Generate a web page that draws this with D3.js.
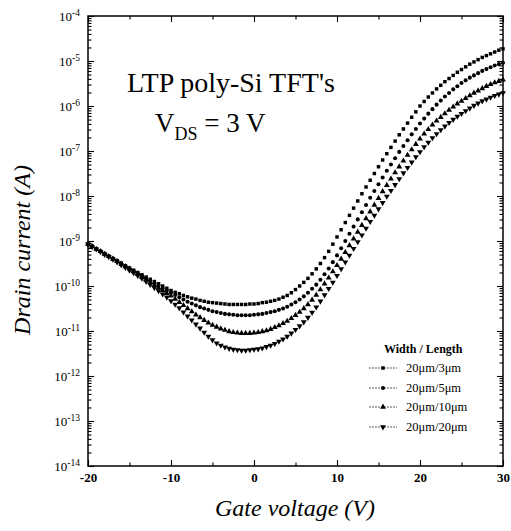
<!DOCTYPE html>
<html>
<head>
<meta charset="utf-8">
<script src="https://cdn.jsdelivr.net/npm/d3@7/dist/d3.min.js"></script>
<style>
body { margin: 0; background: #fff; }
svg { display: block; font-family: "Liberation Serif", "Times New Roman", serif; }
svg text { font-family: "Liberation Serif", "Times New Roman", serif; }
</style>
</head>
<body>
<script>
// gate voltage sweep (V)
var gateV = [
	-20, -19.5, -19, -18.5, -18, -17.5, -17, -16.5, -16, -15.5,
	-15, -14.5, -14, -13.5, -13, -12.5, -12, -11.5, -11, -10.5,
	-10, -9.5, -9, -8.5, -8, -7.5, -7, -6.5, -6, -5.5,
	-5, -4.5, -4, -3.5, -3, -2.5, -2, -1.5, -1, -0.5,
	0, 0.5, 1, 1.5, 2, 2.5, 3, 3.5, 4, 4.5,
	5, 5.5, 6, 6.5, 7, 7.5, 8, 8.5, 9, 9.5,
	10, 10.5, 11, 11.5, 12, 12.5, 13, 13.5, 14, 14.5,
	15, 15.5, 16, 16.5, 17, 17.5, 18, 18.5, 19, 19.5,
	20, 20.5, 21, 21.5, 22, 22.5, 23, 23.5, 24, 24.5,
	25, 25.5, 26, 26.5, 27, 27.5, 28, 28.5, 29, 29.5,
	30
];

// drain current, kept as log10(I / A)
var logId_3um = [
	-9.07, -9.12, -9.18, -9.23, -9.28, -9.34, -9.39, -9.44, -9.49, -9.55,
	-9.60, -9.65, -9.70, -9.75, -9.80, -9.85, -9.90, -9.95, -10.00, -10.05,
	-10.10, -10.14, -10.17, -10.21, -10.24, -10.27, -10.29, -10.32, -10.34, -10.36,
	-10.37, -10.38, -10.39, -10.40, -10.41, -10.41, -10.41, -10.41, -10.41, -10.40,
	-10.40, -10.39, -10.37, -10.36, -10.34, -10.32, -10.29, -10.25, -10.21, -10.15,
	-10.08, -10.00, -9.92, -9.83, -9.73, -9.62, -9.50, -9.37, -9.23, -9.07,
	-8.91, -8.75, -8.59, -8.43, -8.27, -8.11, -7.95, -7.80, -7.65, -7.50,
	-7.35, -7.20, -7.06, -6.92, -6.78, -6.64, -6.51, -6.38, -6.25, -6.13,
	-6.00, -5.90, -5.80, -5.71, -5.62, -5.54, -5.46, -5.39, -5.32, -5.25,
	-5.19, -5.13, -5.07, -5.02, -4.97, -4.92, -4.88, -4.84, -4.80, -4.76,
	-4.73
];
var logId_5um = [
	-9.07, -9.12, -9.18, -9.23, -9.28, -9.34, -9.39, -9.44, -9.50, -9.55,
	-9.61, -9.66, -9.72, -9.77, -9.83, -9.88, -9.94, -9.99, -10.05, -10.10,
	-10.15, -10.20, -10.25, -10.30, -10.35, -10.39, -10.43, -10.47, -10.50, -10.53,
	-10.56, -10.58, -10.60, -10.62, -10.63, -10.64, -10.65, -10.65, -10.65, -10.65,
	-10.64, -10.63, -10.62, -10.60, -10.58, -10.56, -10.53, -10.50, -10.46, -10.41,
	-10.36, -10.30, -10.23, -10.15, -10.06, -9.97, -9.86, -9.74, -9.61, -9.47,
	-9.32, -9.16, -9.00, -8.84, -8.68, -8.52, -8.36, -8.20, -8.04, -7.89,
	-7.74, -7.59, -7.44, -7.30, -7.16, -7.02, -6.89, -6.76, -6.63, -6.51,
	-6.39, -6.28, -6.17, -6.07, -5.97, -5.88, -5.79, -5.71, -5.63, -5.56,
	-5.49, -5.43, -5.37, -5.32, -5.27, -5.22, -5.18, -5.14, -5.10, -5.07,
	-5.04
];
var logId_10um = [
	-9.07, -9.12, -9.18, -9.23, -9.29, -9.34, -9.40, -9.45, -9.51, -9.57,
	-9.62, -9.68, -9.74, -9.80, -9.86, -9.92, -9.98, -10.04, -10.10, -10.16,
	-10.22, -10.29, -10.36, -10.43, -10.50, -10.57, -10.64, -10.70, -10.76, -10.82,
	-10.87, -10.91, -10.95, -10.98, -11.01, -11.03, -11.04, -11.05, -11.05, -11.05,
	-11.04, -11.03, -11.01, -10.99, -10.96, -10.92, -10.88, -10.83, -10.78, -10.72,
	-10.65, -10.58, -10.50, -10.41, -10.31, -10.20, -10.08, -9.95, -9.82, -9.68,
	-9.54, -9.40, -9.25, -9.10, -8.95, -8.80, -8.65, -8.50, -8.35, -8.20,
	-8.05, -7.90, -7.76, -7.62, -7.48, -7.35, -7.22, -7.09, -6.97, -6.85,
	-6.73, -6.62, -6.52, -6.42, -6.33, -6.25, -6.17, -6.09, -6.02, -5.95,
	-5.89, -5.83, -5.77, -5.71, -5.66, -5.61, -5.56, -5.52, -5.48, -5.45,
	-5.42
];
var logId_20um = [
	-9.07, -9.13, -9.18, -9.24, -9.30, -9.35, -9.41, -9.47, -9.53, -9.59,
	-9.65, -9.71, -9.77, -9.83, -9.90, -9.97, -10.04, -10.11, -10.18, -10.25,
	-10.33, -10.41, -10.49, -10.58, -10.67, -10.76, -10.85, -10.94, -11.03, -11.12,
	-11.20, -11.27, -11.32, -11.36, -11.39, -11.41, -11.42, -11.43, -11.43, -11.42,
	-11.41, -11.40, -11.38, -11.35, -11.32, -11.28, -11.23, -11.18, -11.12, -11.05,
	-10.97, -10.89, -10.80, -10.70, -10.59, -10.47, -10.34, -10.20, -10.06, -9.92,
	-9.77, -9.62, -9.47, -9.32, -9.17, -9.02, -8.87, -8.72, -8.57, -8.43,
	-8.29, -8.15, -8.01, -7.88, -7.75, -7.62, -7.49, -7.37, -7.25, -7.13,
	-7.02, -6.91, -6.81, -6.71, -6.62, -6.53, -6.45, -6.37, -6.30, -6.23,
	-6.17, -6.11, -6.05, -5.99, -5.94, -5.89, -5.85, -5.81, -5.77, -5.74,
	-5.71
];

var seriesNames = ["20\u03bcm/3\u03bcm", "20\u03bcm/5\u03bcm", "20\u03bcm/10\u03bcm", "20\u03bcm/20\u03bcm"];
var seriesLogs = [logId_3um, logId_5um, logId_10um, logId_20um];

var xTicks = [-20, -10, 0, 10, 20, 30];
var xMinorTicks = [-15, -5, 5, 15, 25];
var yExponents = [-14, -13, -12, -11, -10, -9, -8, -7, -6, -5, -4];

var W = 511, H = 531;
var plot = {left: 88, right: 503, top: 16, bottom: 466};

var x = d3.scaleLinear().domain([-20, 30]).range([plot.left, plot.right]);
var y = d3.scaleLog().domain([1e-14, 1e-4]).range([plot.bottom, plot.top]);

var svg = d3.select("body").append("svg")
	.attr("width", W)
	.attr("height", H);

// marker shapes: square, circle, triangle up, triangle down
var markers = [
	{type: d3.symbolSquare, size: 12, rot: 0},
	{type: d3.symbolCircle, size: 13, rot: 0},
	{type: d3.symbolTriangle, size: 15, rot: 0},
	{type: d3.symbolTriangle, size: 15, rot: 180}
];

function markerPath(m)
{
	return d3.symbol().type(m.type).size(m.size)();
}

// y major & minor tick values
var yMajor = yExponents.map(function(e) { return Math.pow(10, e); });
var yMinor = [];
for (var e = -14; e < -4; e++)
{
	for (var m = 2; m < 10; m++)
	{
		yMinor.push(m * Math.pow(10, e));
	}
}

function styleAxis(g)
{
	// drop d3's default sans-serif so the serif from css applies
	g.attr("font-family", null).attr("font-size", null);
	g.select(".domain").remove();
	g.selectAll(".tick line").attr("stroke", "#000").attr("stroke-width", 1.1);
}

// bottom axis
svg.append("g")
	.attr("transform", "translate(0," + plot.bottom + ")")
	.call(d3.axisBottom(x).tickValues(xTicks).tickSize(-6).tickPadding(7)
		.tickFormat(function(d) { return d; }))
	.call(styleAxis)
	.selectAll("text")
	.attr("fill", "#000")
	.style("font-size", "13px")
	.style("font-weight", "bold");
svg.append("g")
	.attr("transform", "translate(0," + plot.bottom + ")")
	.call(d3.axisBottom(x).tickValues(xMinorTicks).tickSize(-3.5).tickFormat(""))
	.call(styleAxis);

// top axis
svg.append("g")
	.attr("transform", "translate(0," + plot.top + ")")
	.call(d3.axisTop(x).tickValues(xTicks).tickSize(-6).tickFormat(""))
	.call(styleAxis);
svg.append("g")
	.attr("transform", "translate(0," + plot.top + ")")
	.call(d3.axisTop(x).tickValues(xMinorTicks).tickSize(-3.5).tickFormat(""))
	.call(styleAxis);

// left axis with 10^n labels
var yLeft = svg.append("g")
	.attr("transform", "translate(" + plot.left + ",0)")
	.call(d3.axisLeft(y).tickValues(yMajor).tickSize(-6).tickPadding(8)
		.tickFormat(function(d) { return ""; }))
	.call(styleAxis);
yLeft.selectAll(".tick text")
	.attr("fill", "#000")
	.style("font-size", "13px")
	.each(function(d)
	{
		var t = d3.select(this);
		var ex = Math.round(Math.log10(d));
		t.text("10");
		t.append("tspan")
			.attr("dy", "-5")
			.style("font-size", "9.5px")
			.text(ex);
	});
svg.append("g")
	.attr("transform", "translate(" + plot.left + ",0)")
	.call(d3.axisLeft(y).tickValues(yMinor).tickSize(-3.5).tickFormat(""))
	.call(styleAxis);

// right axis
svg.append("g")
	.attr("transform", "translate(" + plot.right + ",0)")
	.call(d3.axisRight(y).tickValues(yMajor).tickSize(-6).tickFormat(""))
	.call(styleAxis);
svg.append("g")
	.attr("transform", "translate(" + plot.right + ",0)")
	.call(d3.axisRight(y).tickValues(yMinor).tickSize(-3.5).tickFormat(""))
	.call(styleAxis);

// frame
svg.append("rect")
	.attr("x", plot.left)
	.attr("y", plot.top)
	.attr("width", plot.right - plot.left)
	.attr("height", plot.bottom - plot.top)
	.attr("fill", "none")
	.attr("stroke", "#000")
	.attr("stroke-width", 1.5);

// the four curves, markers only
for (var s = seriesLogs.length - 1; s >= 0; s--)
{
	var pts = gateV.map(function(v, i) { return {v: v, id: Math.pow(10, seriesLogs[s][i])}; });
	var mk = markers[s];
	svg.append("g")
		.selectAll("path")
		.data(pts)
		.enter().append("path")
		.attr("d", markerPath(mk))
		.attr("transform", function(d)
		{
			return "translate(" + x(d.v) + "," + y(d.id) + ") rotate(" + mk.rot + ")";
		})
		.attr("fill", "#000");
}

// annotation
svg.append("text")
	.attr("x", 127)
	.attr("y", 92)
	.style("font-size", "28px")
	.text("LTP poly-Si TFT's");
var vds = svg.append("text")
	.attr("x", 155)
	.attr("y", 132)
	.style("font-size", "27px");
vds.append("tspan").text("V");
vds.append("tspan").attr("dy", 8).style("font-size", "18px").text("DS");
vds.append("tspan").attr("dy", -8).text(" = 3 V");

// legend
var legend = svg.append("g");
legend.append("text")
	.attr("x", 384)
	.attr("y", 353)
	.style("font-size", "12px")
	.style("font-weight", "bold")
	.text("Width / Length");
var legendY = [368, 388, 407, 427];
seriesNames.forEach(function(name, i)
{
	var ly = legendY[i];
	legend.append("line")
		.attr("x1", 369).attr("x2", 397)
		.attr("y1", ly).attr("y2", ly)
		.attr("stroke", "#333")
		.attr("stroke-width", 0.8)
		.attr("stroke-dasharray", "2,1");
	legend.append("path")
		.attr("d", markerPath(markers[i]))
		.attr("transform", "translate(383," + ly + ") rotate(" + markers[i].rot + ")")
		.attr("fill", "#000");
	legend.append("text")
		.attr("x", 406)
		.attr("y", ly + 4)
		.style("font-size", "12.5px")
		.text(name);
});

// axis titles
svg.append("text")
	.attr("transform", "translate(30,250) rotate(-90)")
	.attr("text-anchor", "middle")
	.style("font-size", "24px")
	.style("font-style", "italic")
	.text("Drain current (A)");
svg.append("text")
	.attr("x", 295)
	.attr("y", 516)
	.attr("text-anchor", "middle")
	.style("font-size", "24px")
	.style("font-style", "italic")
	.text("Gate voltage (V)");
</script>
</body>
</html>
